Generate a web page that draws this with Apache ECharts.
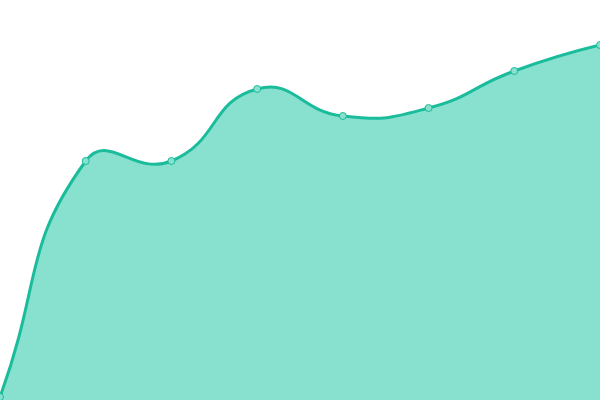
<!DOCTYPE html>
<html>
<head>
<meta charset="utf-8">
<script src="https://cdn.jsdelivr.net/npm/echarts@6/dist/echarts.min.js"></script>
<style>
  html, body { margin: 0; padding: 0; background: #fff; }
  #chart { width: 600px; height: 400px; }
</style>
</head>
<body>
<div id="chart"></div>
<script>
const categories = ['1', '2', '3', '4', '5', '6', '7', '8']
const values = [3, 239, 239, 311, 284, 292, 329, 355]

const lineColor = '#1abc9c'
const areaColor = '#88e0cf'

// old-style bezier smoothing (lets the curve overshoot between points)
const smoothPath = (pts, smooth) => {
  const out = [] // outgoing control point of each point
  const inc = [] // incoming control point of each point
  pts.forEach((p, i) => {
    const prev = pts[i - 1] || p
    const next = pts[i + 1]
    if (!next) {
      inc.push([p[0], p[1]])
      out.push([p[0], p[1]])
      return
    }
    const vx = next[0] - prev[0]
    const vy = next[1] - prev[1]
    const d0 = Math.hypot(p[0] - prev[0], p[1] - prev[1])
    const d1 = Math.hypot(p[0] - next[0], p[1] - next[1])
    const r = d0 + d1 ? d1 / (d0 + d1) : 0.5
    inc.push([p[0] - vx * smooth * (1 - r), p[1] - vy * smooth * (1 - r)])
    out.push([p[0] + vx * smooth * r, p[1] + vy * smooth * r])
  })
  let d = `M${pts[0][0]},${pts[0][1]}`
  for (let i = 1; i < pts.length; i++) {
    const c0 = out[i - 1]
    const c1 = inc[i]
    d += ` C${c0[0]},${c0[1]} ${c1[0]},${c1[1]} ${pts[i][0]},${pts[i][1]}`
  }
  return d
}

const renderArea = (params, api) => {
  if (params.dataIndex !== 0) return null
  const pts = values.map((v, i) => api.coord([i, v]))
  const base = api.coord([0, 0])[1]
  const line = smoothPath(pts, 0.5)
  const last = pts[pts.length - 1]
  const area = `${line} L${last[0]},${base} L${pts[0][0]},${base} Z`
  return {
    type: 'group',
    children: [
      { type: 'path', shape: { pathData: area }, style: { fill: areaColor, stroke: null } },
      {
        type: 'path',
        shape: { pathData: line },
        style: { fill: null, stroke: lineColor, lineWidth: 3 },
      },
    ],
  }
}

const chart = echarts.init(document.getElementById('chart'))
chart.setOption({
  animation: false,
  grid: { left: 0, right: 0, top: 0, bottom: 0 },
  xAxis: {
    type: 'category',
    boundaryGap: false,
    data: categories,
    show: false,
  },
  yAxis: {
    type: 'value',
    min: 0,
    max: 400,
    show: false,
  },
  series: [
    {
      type: 'custom',
      renderItem: renderArea,
      data: values.map((v, i) => [i, v]),
      clip: true,
      silent: true,
    },
    {
      type: 'scatter',
      data: values,
      symbol: 'circle',
      symbolSize: 7,
      itemStyle: { color: areaColor, borderColor: lineColor, borderWidth: 1, opacity: 1 },
    },
  ],
})
</script>
</body>
</html>
